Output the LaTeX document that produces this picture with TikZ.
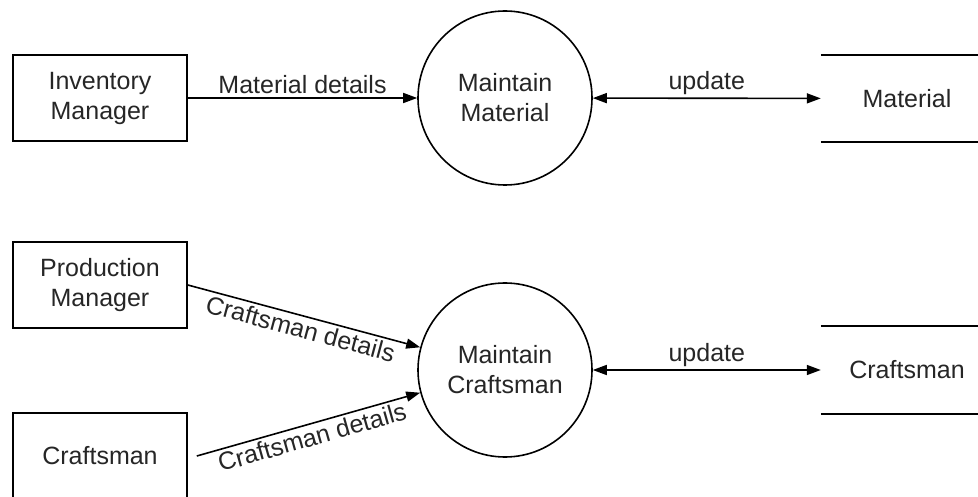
\documentclass[tikz,border=0pt]{standalone}
\usepackage{fontspec}
\setmainfont{Liberation Sans}
\usetikzlibrary{arrows.meta}
\begin{document}
\begin{tikzpicture}[x=1pt,y=-1pt,
  every node/.style={font=\fontsize{25}{30}\selectfont, text=black!85},
  entity/.style={draw, line width=1.6pt, minimum width=174pt, minimum height=86pt, align=center, inner sep=0pt},
  process/.style={draw, circle, line width=1.6pt, minimum size=174pt, align=center, inner sep=0pt},
  store/.style={minimum width=172pt, minimum height=87pt, inner sep=0pt},
  storeline/.style={line width=1.6pt},
  flow/.style={line width=1.6pt, -{Triangle[length=14pt,width=10pt]}},
  biflow/.style={line width=1.6pt, {Triangle[length=14pt,width=10pt]}-{Triangle[length=14pt,width=10pt]}},
  lbl/.style={inner sep=3pt}
]
\useasboundingbox (0,0) rectangle (978,497);

% material maintenance
\node[entity] (im) at (100,98) {Inventory\\Manager};
\node[process] (mm) at (505,98) {Maintain\\Material};
\node[store] (ms) at (907,98.5) {Material};
\draw[storeline] (ms.north west) -- (ms.north east) (ms.south west) -- (ms.south east);

\draw[flow] (im) -- node[lbl, above] {Material details} (mm);
\draw[biflow] (mm) -- node[lbl, above] {update} (ms);

% craftsman maintenance
\node[entity] (pm) at (100,285) {Production\\Manager};
\node[entity] (cr) at (100,456) {Craftsman};
\node[process] (mc) at (505,370) {Maintain\\Craftsman};
\node[store] (cs) at (907,370) {Craftsman};
\draw[storeline] (cs.north west) -- (cs.north east) (cs.south west) -- (cs.south east);

\coordinate (crout) at ([xshift=9pt]cr.east);
\draw[flow] (pm.east) -- node[lbl, below, sloped] {Craftsman details} (mc.165);
\draw[flow] (crout) -- node[lbl, below, sloped] {Craftsman details} (mc.195);
\draw[biflow] (mc) -- node[lbl, above] {update} (cs);
\end{tikzpicture}
\end{document}
